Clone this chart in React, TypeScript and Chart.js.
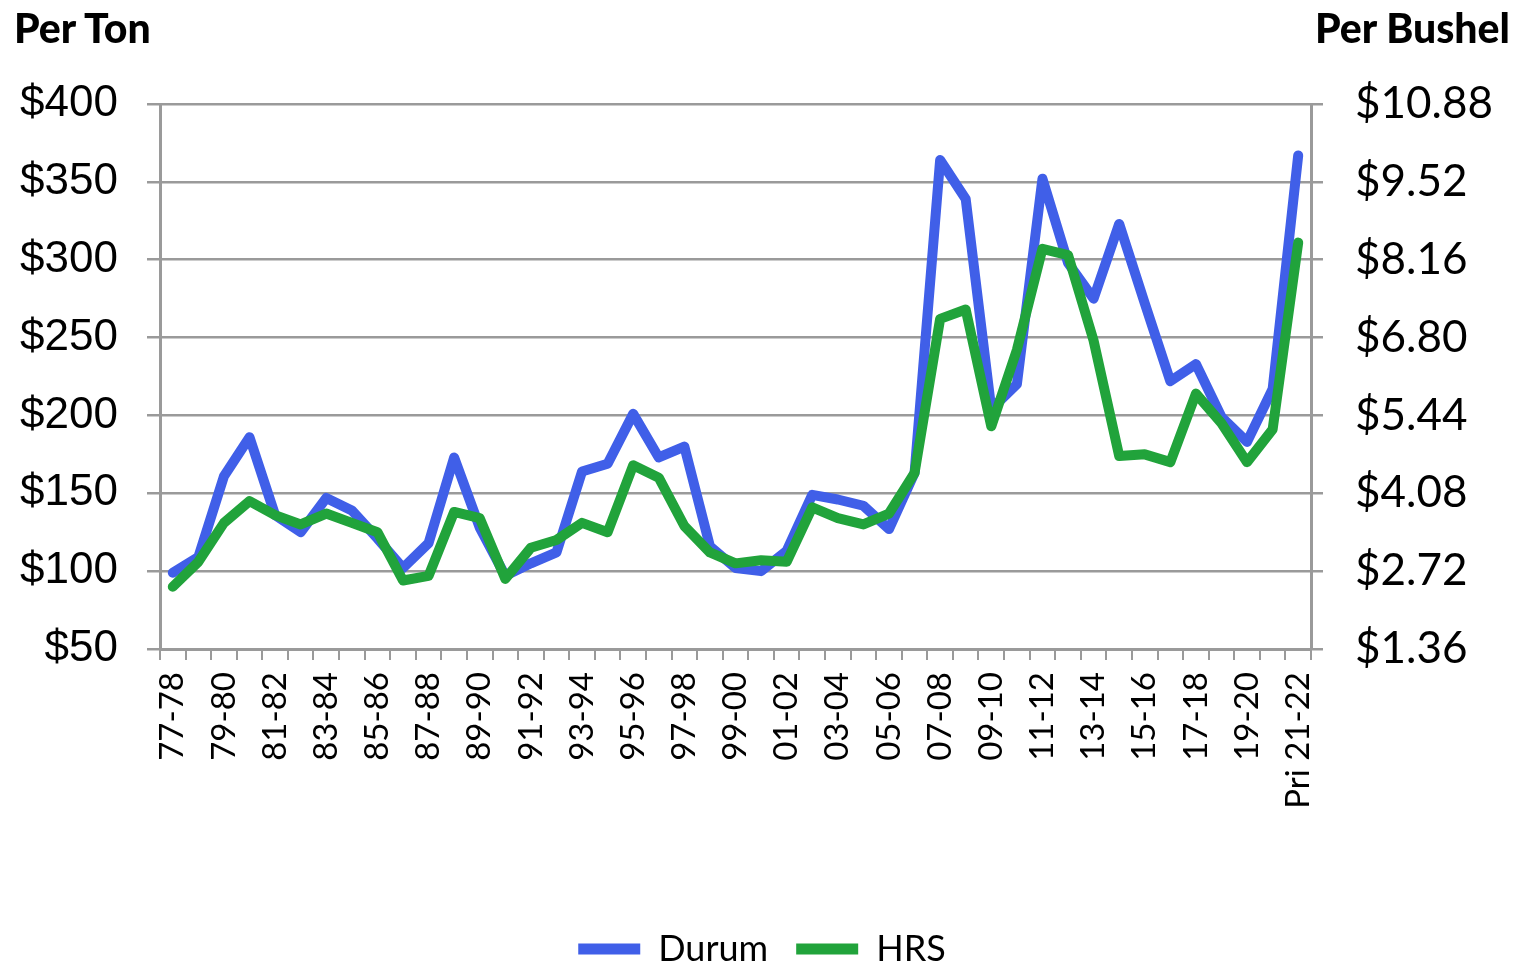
import React, { useEffect, useRef } from "react";
import { Chart, registerables } from "chart.js";

Chart.register(...registerables);

const categories = [
  "77-78","78-79","79-80","80-81","81-82","82-83","83-84","84-85","85-86","86-87",
  "87-88","88-89","89-90","90-91","91-92","92-93","93-94","94-95","95-96","96-97",
  "97-98","98-99","99-00","00-01","01-02","02-03","03-04","04-05","05-06","06-07",
  "07-08","08-09","09-10","10-11","11-12","12-13","13-14","14-15","15-16","16-17",
  "17-18","18-19","19-20","20-21","Pri 21-22",
];

const durum = [
  99, 109, 161, 186, 136, 125, 147, 139, 121, 102,
  118, 173, 128, 97, 105, 112, 164, 169, 201, 173,
  180, 116, 102, 100, 113, 149, 146, 142, 127, 163,
  364, 339, 204, 220, 352, 298, 275, 323, 272, 222,
  233, 199, 183, 217, 367,
];

const hrs = [
  90, 106, 131, 145, 136, 130, 137, 131, 125, 94,
  97, 138, 134, 95, 115, 120, 131, 125, 168, 160,
  129, 112, 105, 107, 106, 141, 134, 130, 137, 163,
  262, 268, 193, 242, 307, 303, 248, 174, 175, 170,
  214, 195, 170, 191, 311,
];

const perTonTicks = [50, 100, 150, 200, 250, 300, 350, 400];
const perBushelTicks = [1.36, 2.72, 4.08, 5.44, 6.8, 8.16, 9.52, 10.88];

const GRID = "#9a9a9a";
const BLUE = "#405FE8";
const GREEN = "#21A33B";
const GOTHIC = "Lato, 'DejaVu Sans', sans-serif";

export default function App() {
  const ref = useRef<HTMLCanvasElement | null>(null);

  useEffect(() => {
    if (!ref.current) return;
    const chart = new Chart(ref.current, {
      type: "line",
      data: {
        labels: categories,
        datasets: [
          {
            label: "Durum",
            data: durum,
            borderColor: BLUE,
            backgroundColor: BLUE,
            borderWidth: 10,
            pointRadius: 0,
            borderJoinStyle: "round",
            borderCapStyle: "round",
            tension: 0,
            order: 1,
            yAxisID: "y",
          },
          {
            label: "HRS",
            data: hrs,
            borderColor: GREEN,
            backgroundColor: GREEN,
            borderWidth: 10,
            pointRadius: 0,
            borderJoinStyle: "round",
            borderCapStyle: "round",
            tension: 0,
            order: 0,
            yAxisID: "y",
          },
        ],
      },
      options: {
        responsive: false,
        animation: false,
        devicePixelRatio: 1,
        layout: { padding: { top: 104, left: 0, right: 0, bottom: -10 } },
        plugins: {
          tooltip: { enabled: false },
          title: { display: false },
          legend: {
            position: "bottom",
            labels: {
              boxWidth: 62,
              boxHeight: 11,
              useBorderRadius: true,
              borderRadius: 5,
              padding: 28,
              color: "#000",
              font: { family: GOTHIC, size: 36 },
              generateLabels: (c: any) =>
                c.data.datasets.map((ds: any, i: number) => ({
                  text: ds.label,
                  fillStyle: ds.borderColor,
                  strokeStyle: ds.borderColor,
                  lineWidth: 0,
                  datasetIndex: i,
                  hidden: false,
                  fontColor: "#000",
                })),
            },
          },
        },
        scales: {
          x: {
            type: "category",
            offset: true,
            grid: {
              display: true,
              offset: true,
              drawOnChartArea: false,
              drawTicks: true,
              tickLength: 11,
              color: GRID,
              lineWidth: 2,
            },
            border: { display: true, color: GRID, width: 3 },
            ticks: {
              autoSkip: false,
              maxRotation: 90,
              minRotation: 90,
              padding: 12,
              color: "#000",
              font: { family: GOTHIC, size: 33 },
              callback: (_v: any, i: number) => (i % 2 === 0 ? categories[i] : ""),
            },
            afterFit: (s: any) => {
              s.height = 254;
            },
          },
          y: {
            type: "linear",
            position: "left",
            min: 50,
            max: 400,
            afterBuildTicks: (s: any) => {
              s.ticks = perTonTicks.map((v) => ({ value: v }));
            },
            grid: {
              color: GRID,
              lineWidth: 2.5,
              tickLength: 13,
              drawTicks: true,
            },
            border: { display: true, color: GRID, width: 3 },
            ticks: {
              padding: 29,
              color: "#000",
              font: { family: "'Liberation Sans', Arial, sans-serif", size: 44 },
              callback: (v: any) => "$" + v,
            },
            afterFit: (s: any) => {
              s.width = 160;
            },
          },
          y1: {
            type: "linear",
            position: "right",
            min: 1.36,
            max: 10.88,
            afterBuildTicks: (s: any) => {
              s.ticks = perBushelTicks.map((v) => ({ value: v }));
            },
            grid: {
              drawOnChartArea: false,
              color: GRID,
              lineWidth: 2.5,
              tickLength: 12,
              drawTicks: true,
            },
            border: { display: true, color: GRID, width: 3 },
            ticks: {
              padding: 32,
              color: "#000",
              font: { family: GOTHIC, size: 44 },
              callback: (v: any) => "$" + Number(v).toFixed(2),
            },
            afterFit: (s: any) => {
              s.width = 213;
            },
          },
        },
      },
    });
    return () => chart.destroy();
  }, []);

  const header: React.CSSProperties = {
    position: "absolute",
    top: 3,
    fontFamily: GOTHIC,
    fontWeight: 900,
    fontSize: 41,
    color: "#000",
    lineHeight: "50px",
    whiteSpace: "nowrap",
  };

  return (
    <div
      style={{
        position: "fixed",
        left: 0,
        top: 0,
        width: 1524,
        height: 967,
        background: "#fff",
      }}
    >
      <canvas ref={ref} width={1524} height={967} style={{ display: "block" }} />
      <div style={{ ...header, left: 14 }}>Per Ton</div>
      <div style={{ ...header, right: 14 }}>Per Bushel</div>
    </div>
  );
}
